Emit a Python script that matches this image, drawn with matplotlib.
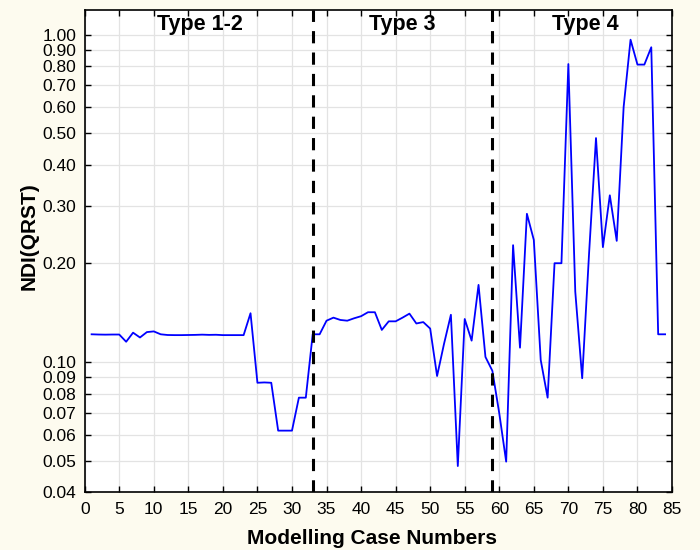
import matplotlib
matplotlib.use("Agg")
import matplotlib.pyplot as plt
from matplotlib.ticker import FixedLocator, FixedFormatter, NullLocator
import numpy as np

plt.rcParams['font.family'] = ['Liberation Sans', 'DejaVu Sans']

# NDI(QRST) per modelling case
cases = list(range(1, 85))
ndi = [
    0.1215, 0.1213, 0.1212, 0.1213, 0.1213, 0.1153, 0.1229, 0.1188, 0.1234, 0.1240,
    0.1215, 0.1209, 0.1208, 0.1208, 0.1209, 0.1210, 0.1212, 0.1210, 0.1211, 0.1208,
    0.1208, 0.1208, 0.1208, 0.1409, 0.0864, 0.0866, 0.0864, 0.0617, 0.0617, 0.0617,
    0.0778, 0.0778, 0.1215, 0.1215, 0.1337, 0.1366, 0.1344, 0.1337, 0.1360, 0.1380,
    0.1419, 0.1419, 0.1253, 0.1331, 0.1331, 0.1366, 0.1405, 0.1311, 0.1324, 0.1265,
    0.0906, 0.1135, 0.1394, 0.0481, 0.1353, 0.1162, 0.1720, 0.1036, 0.0940, 0.0697,
    0.0496, 0.2274, 0.1106, 0.2836, 0.2360, 0.1014, 0.0778, 0.2003, 0.2003, 0.8130,
    0.1640, 0.0892, 0.2150, 0.4830, 0.2243, 0.3230, 0.2344, 0.6010, 0.9650, 0.8100,
    0.8100, 0.9150, 0.1215, 0.1215,
]

boundaries = [33, 59]
type_labels = ["Type 1-2", "Type 3", "Type 4"]
type_label_x = [16.7, 46.0, 72.4]

y_ticks = [0.04, 0.05, 0.06, 0.07, 0.08, 0.09, 0.10,
           0.20, 0.30, 0.40, 0.50, 0.60, 0.70, 0.80, 0.90, 1.00]
x_ticks = list(range(0, 90, 5))

fig = plt.figure(figsize=(7, 5.5), dpi=100, facecolor='#fdfbef')
ax = fig.add_axes([0.121, 0.105, 0.839, 0.877])
ax.set_facecolor('white')

ax.plot(cases, ndi, color='#0000ff', lw=1.3, zorder=3)
for b in boundaries:
    ax.axvline(b, color='black', lw=2.2, ls=(0, (4, 3)), zorder=4)

ax.set_yscale('log')
ax.set_xlim(0, 85)
ax.set_ylim(0.04, 1.19)

ax.yaxis.set_major_locator(FixedLocator(y_ticks))
ax.yaxis.set_major_formatter(FixedFormatter(['%.2f' % v for v in y_ticks]))
ax.yaxis.set_minor_locator(NullLocator())
ax.set_xticks(x_ticks)

ax.grid(True, color='#e3e3e3', lw=0.9, zorder=0)
ax.tick_params(direction='in', length=4, width=1, labelsize=12.5,
               top=True, right=True, colors='black')
ax.tick_params(axis='x', pad=7)
ax.tick_params(axis='y', pad=6)
for s in ax.spines.values():
    s.set_linewidth(1.2)

ax.set_xlabel("Modelling Case Numbers", fontsize=15, fontweight='bold')
ax.set_ylabel("NDI(QRST)", fontsize=15, fontweight='bold')
ax.xaxis.set_label_coords(0.49, -0.076)
ax.yaxis.set_label_coords(-0.079, 0.53)

trans = ax.get_xaxis_transform()
for lab, xp in zip(type_labels, type_label_x):
    ax.text(xp, 0.969, lab, transform=trans, ha='center', va='center',
            fontsize=15.5, fontweight='bold')

fig.savefig("out.png", dpi=100, facecolor=fig.get_facecolor())
